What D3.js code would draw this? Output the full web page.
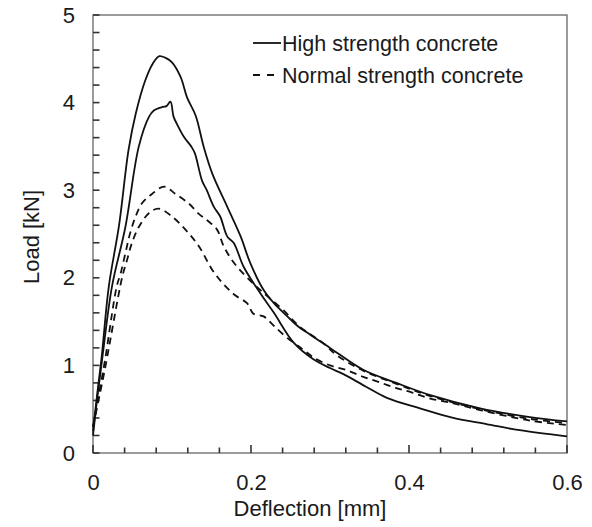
<!DOCTYPE html>
<html lang="en">
<head>
<meta charset="UTF-8">
<title>Load - deflection</title>
<style>
	body, html { margin: 0; padding: 0; background: #ffffff; }
	svg { display: block; font-family: "Liberation Sans", Arial, sans-serif; }
</style>
</head>
<body>
<svg id="svg" width="592" height="527"></svg>
<script src="https://d3js.org/d3.v7.min.js"></script>
<script>
// high strength concrete, specimen 1 (higher peak)
const hsc1X = [0, 0.005, 0.011, 0.020, 0.033, 0.045, 0.054, 0.066, 0.076, 0.084, 0.092, 0.100, 0.111, 0.119, 0.130, 0.140, 0.151, 0.170, 0.187, 0.199, 0.216, 0.229, 0.246, 0.259, 0.275, 0.300, 0.342, 0.384, 0.427, 0.490, 0.553, 0.600];
const hsc1Y = [0.25, 0.65, 1.10, 1.90, 2.60, 3.46, 3.87, 4.25, 4.45, 4.53, 4.51, 4.46, 4.29, 4.06, 3.85, 3.50, 3.19, 2.81, 2.47, 2.17, 1.86, 1.71, 1.56, 1.45, 1.35, 1.20, 0.95, 0.80, 0.66, 0.51, 0.41, 0.36];
// high strength concrete, specimen 2
const hsc2X = [0, 0.005, 0.012, 0.024, 0.041, 0.058, 0.071, 0.077, 0.088, 0.093, 0.098, 0.102, 0.106, 0.115, 0.125, 0.129, 0.138, 0.144, 0.153, 0.161, 0.170, 0.178, 0.191, 0.212, 0.229, 0.254, 0.279, 0.300, 0.317, 0.345, 0.372, 0.414, 0.456, 0.498, 0.540, 0.600];
const hsc2Y = [0.20, 0.60, 1.10, 1.90, 2.58, 3.50, 3.84, 3.91, 3.95, 3.96, 4.01, 3.84, 3.76, 3.61, 3.49, 3.42, 3.11, 3.00, 2.81, 2.70, 2.47, 2.40, 2.12, 1.82, 1.60, 1.26, 1.07, 0.97, 0.90, 0.76, 0.63, 0.51, 0.40, 0.33, 0.26, 0.19];
// normal strength concrete, specimen 1 (higher peak)
const nsc1X = [0, 0.006, 0.015, 0.030, 0.035, 0.041, 0.047, 0.054, 0.062, 0.075, 0.090, 0.104, 0.121, 0.134, 0.144, 0.157, 0.165, 0.176, 0.190, 0.207, 0.222, 0.241, 0.262, 0.292, 0.308, 0.342, 0.384, 0.427, 0.490, 0.553, 0.600];
const nsc1Y = [0.30, 0.60, 1.05, 1.90, 2.05, 2.28, 2.51, 2.70, 2.85, 2.96, 3.04, 2.96, 2.85, 2.73, 2.66, 2.55, 2.37, 2.20, 2.05, 1.90, 1.78, 1.63, 1.44, 1.25, 1.12, 0.94, 0.79, 0.65, 0.50, 0.39, 0.34];
// normal strength concrete, specimen 2
const nsc2X = [0, 0.007, 0.016, 0.037, 0.043, 0.049, 0.058, 0.071, 0.083, 0.100, 0.117, 0.134, 0.151, 0.166, 0.180, 0.195, 0.203, 0.216, 0.228, 0.245, 0.266, 0.281, 0.300, 0.320, 0.342, 0.362, 0.384, 0.404, 0.427, 0.450, 0.490, 0.553, 0.600];
const nsc2Y = [0.30, 0.60, 1.00, 2.01, 2.20, 2.39, 2.58, 2.74, 2.79, 2.70, 2.55, 2.36, 2.09, 1.92, 1.80, 1.71, 1.59, 1.56, 1.46, 1.32, 1.18, 1.08, 1.00, 0.95, 0.87, 0.81, 0.74, 0.69, 0.62, 0.58, 0.49, 0.37, 0.32];

const xTickLabels = [0, 0.2, 0.4, 0.6];
const yTickLabels = [0, 1, 2, 3, 4, 5];
const legendNames = ['High strength concrete', 'Normal strength concrete'];

const series = [
	{ x: hsc1X, y: hsc1Y, dash: null },
	{ x: hsc2X, y: hsc2Y, dash: null },
	{ x: nsc1X, y: nsc1Y, dash: '7,5' },
	{ x: nsc2X, y: nsc2Y, dash: '7,5' }
];

const plotL = 93, plotR = 567, plotT = 15, plotB = 453;
const svg = d3.select('#svg');

const x = d3.scaleLinear().domain([0, 0.6]).range([plotL, plotR]);
const y = d3.scaleLinear().domain([0, 5]).range([plotB, plotT]);

const frame = '#333';

svg.append('rect')
	.attr('x', plotL).attr('y', plotT)
	.attr('width', plotR - plotL).attr('height', plotB - plotT)
	.attr('fill', 'none').attr('stroke', '#666').attr('stroke-width', 1.3);

// tick labels through d3 axes
const xAxis = svg.append('g').attr('transform', `translate(0,${plotB})`)
	.call(d3.axisBottom(x).tickValues(xTickLabels).tickSize(0).tickPadding(21).tickFormat(d => d === 0 ? '0' : d3.format('.1f')(d)));
const yAxis = svg.append('g').attr('transform', `translate(${plotL},0)`)
	.call(d3.axisLeft(y).tickValues(yTickLabels).tickSize(0).tickPadding(18).tickFormat(d3.format('d')));
[xAxis, yAxis].forEach(g => {
	g.select('.domain').remove();
	g.selectAll('text').attr('font-size', 22).attr('fill', '#1a1a1a')
		.attr('font-family', '"Liberation Sans", Arial, sans-serif');
});

// inward tick marks
const xMarks = d3.range(0, 16).map(i => i * 0.04);
const yMarks = d3.range(0, 26).map(i => i * 0.2);
svg.append('g').selectAll('line')
	.data(xMarks)
	.enter()
	.append('line')
	.attr('x1', d => x(d)).attr('x2', d => x(d))
	.attr('y1', plotB).attr('y2', (d, i) => plotB - (i % 5 === 0 ? 8 : 5.5))
	.attr('stroke', frame).attr('stroke-width', 1.6);
svg.append('g').selectAll('line')
	.data(yMarks)
	.enter()
	.append('line')
	.attr('x1', plotL).attr('x2', plotL + 6.5)
	.attr('y1', d => y(d)).attr('y2', d => y(d))
	.attr('stroke', frame).attr('stroke-width', 1.6);

const line = d3.line().x(d => x(d[0])).y(d => y(d[1])).curve(d3.curveCatmullRom.alpha(0.5));

svg.append('g').selectAll('path')
	.data(series)
	.enter()
	.append('path')
	.attr('d', s => line(s.x.map((v, i) => [v, s.y[i]])))
	.attr('fill', 'none')
	.attr('stroke', '#111')
	.attr('stroke-width', 1.8)
	.attr('stroke-linejoin', 'round')
	.attr('stroke-dasharray', s => s.dash);

// legend
const legend = svg.append('g');
legendNames.forEach((name, i) => {
	const ly = 43 + i * 32;
	legend.append('line')
		.attr('x1', 253).attr('x2', i === 0 ? 281 : 274)
		.attr('y1', ly).attr('y2', ly)
		.attr('stroke', '#111').attr('stroke-width', 1.8)
		.attr('stroke-dasharray', i === 0 ? null : '7,7');
	legend.append('text')
		.attr('x', 282).attr('y', ly).attr('dy', '0.35em')
		.attr('font-size', 21.5).attr('fill', '#1a1a1a')
		.text(name);
});

// axis titles
svg.append('text')
	.attr('x', 310).attr('y', 516)
	.attr('text-anchor', 'middle').attr('font-size', 22).attr('fill', '#1a1a1a')
	.text('Deflection [mm]');
svg.append('text')
	.attr('transform', 'translate(39,237) rotate(-90)')
	.attr('text-anchor', 'middle').attr('font-size', 22).attr('fill', '#1a1a1a')
	.text('Load [kN]');
</script>
</body>
</html>
